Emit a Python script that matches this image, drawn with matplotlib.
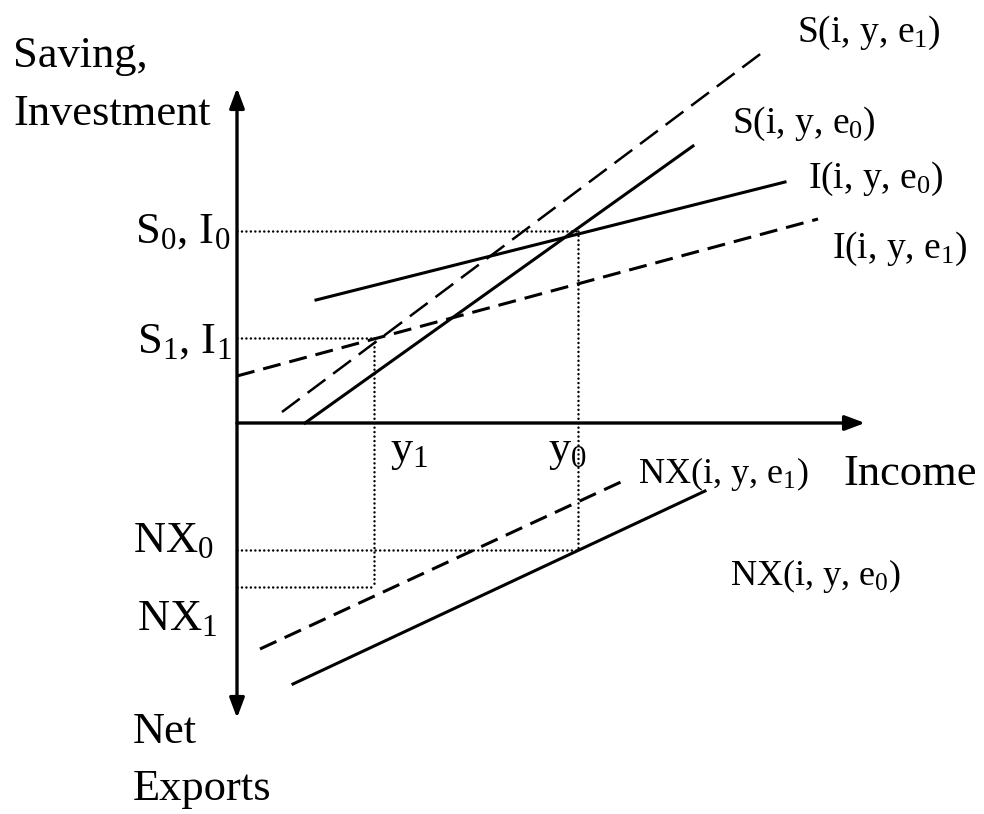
import matplotlib
matplotlib.use("Agg")
import matplotlib.pyplot as plt

plt.rcParams["font.family"] = ["Liberation Serif", "DejaVu Serif"]
plt.rcParams["mathtext.fontset"] = "custom"
plt.rcParams["mathtext.rm"] = "Liberation Serif"
plt.rcParams["mathtext.it"] = "Liberation Serif:italic"
plt.rcParams["lines.scale_dashes"] = False

# Diagram coordinates: origin at the axes crossing, income to the right,
# saving/investment upward, net exports downward (negative).
income_levels = {"y1": 137, "y0": 341}
si_levels = {"S0, I0": 192, "S1, I1": 85}
nx_levels = {"NX0": -127, "NX1": -164}

# Schedules as (x_start, x_end), (y_start, y_end)
S_e0_x, S_e0_y = [68, 456], [0, 277]
S_e1_x, S_e1_y = [45, 526], [11, 371]
I_e0_x, I_e0_y = [79, 548], [123, 241]
I_e1_x, I_e1_y = [0, 581], [47, 204]
NX_e1_x, NX_e1_y = [23, 386], [-226, -58]
NX_e0_x, NX_e0_y = [56, 468], [-261, -68]

axis_y_range = [-295, 335]
axis_x_max = 628

fig = plt.figure(figsize=(9.84, 8.14), dpi=100)
ax = fig.add_axes([0, 0, 1, 1])
ax.set_xlim(-237, 747)
ax.set_ylim(-391, 423)
ax.axis("off")

LW = 2.2
DASH = (0, (13, 6.5))
LONG_DASH = (0, (16, 7))
DOT = (0, (0.01, 3.2))

# axes with arrowheads
ax.annotate("", xy=(0, axis_y_range[1]), xytext=(0, axis_y_range[0]),
            arrowprops=dict(arrowstyle="<|-|>,head_length=1.2,head_width=0.45",
                            lw=2.4, color="black", mutation_scale=10,
                            shrinkA=0, shrinkB=0))
ax.annotate("", xy=(axis_x_max, 0), xytext=(0, 0),
            arrowprops=dict(arrowstyle="-|>,head_length=1.2,head_width=0.45",
                            lw=2.4, color="black", mutation_scale=10,
                            shrinkA=0, shrinkB=0))

# guide lines
y1, y0 = income_levels["y1"], income_levels["y0"]
s0, s1 = si_levels["S0, I0"], si_levels["S1, I1"]
nx0, nx1 = nx_levels["NX0"], nx_levels["NX1"]
dot_kw = dict(color="black", lw=1.8, linestyle=DOT, dash_capstyle="round")
ax.plot([0, y0], [s0, s0], **dot_kw)
ax.plot([0, y1], [s1, s1], **dot_kw)
ax.plot([0, y0], [nx0, nx0], **dot_kw)
ax.plot([0, y1], [nx1, nx1], **dot_kw)
ax.plot([y0, y0], [s0, nx0], **dot_kw)
ax.plot([y1, y1], [s1, nx1], **dot_kw)

# schedules
ax.plot(S_e0_x, S_e0_y, color="black", lw=LW)
ax.plot(I_e0_x, I_e0_y, color="black", lw=LW)
ax.plot(NX_e0_x, NX_e0_y, color="black", lw=LW)
ax.plot(S_e1_x, S_e1_y, color="black", lw=1.8, linestyle=LONG_DASH)
ax.plot(I_e1_x, I_e1_y, color="black", lw=LW, linestyle=DASH)
ax.plot(NX_e1_x, NX_e1_y, color="black", lw=LW, linestyle=DASH)

BIG = 32
MID = 27
SMALL = 26
txt = dict(color="black", ha="left", va="baseline")

ax.text(-224, 356, "Saving,", fontsize=BIG, **txt)
ax.text(-224, 298, "Investment", fontsize=BIG, **txt)
ax.text(-102, 180, r"S$_{\mathrm{0}}$, I$_{\mathrm{0}}$", fontsize=BIG, **txt)
ax.text(-100, 70, r"S$_{\mathrm{1}}$, I$_{\mathrm{1}}$", fontsize=BIG, **txt)
ax.text(-104, -129, r"NX$_{\mathrm{0}}$", fontsize=BIG, **txt)
ax.text(-100, -207, r"NX$_{\mathrm{1}}$", fontsize=BIG, **txt)
ax.text(-104, -320, "Net", fontsize=BIG, **txt)
ax.text(-104, -377, "Exports", fontsize=BIG, **txt)
ax.text(153, -38, r"y$_{\mathrm{1}}$", fontsize=BIG, **txt)
ax.text(311, -38, r"y$_{\mathrm{0}}$", fontsize=BIG, **txt)
ax.text(606, -62, "Income", fontsize=BIG, **txt)

ax.text(560, 381, r"S(i, y, e$_{\mathrm{1}}$)", fontsize=MID, **txt)
ax.text(495, 290, r"S(i, y, e$_{\mathrm{0}}$)", fontsize=MID, **txt)
ax.text(571, 235, r"I(i, y, e$_{\mathrm{0}}$)", fontsize=MID, **txt)
ax.text(595, 165, r"I(i, y, e$_{\mathrm{1}}$)", fontsize=MID, **txt)
ax.text(401, -60, r"NX(i, y, e$_{\mathrm{1}}$)", fontsize=SMALL, **txt)
ax.text(493, -162, r"NX(i, y, e$_{\mathrm{0}}$)", fontsize=SMALL, **txt)

fig.savefig("out.png", dpi=100, facecolor="white")
